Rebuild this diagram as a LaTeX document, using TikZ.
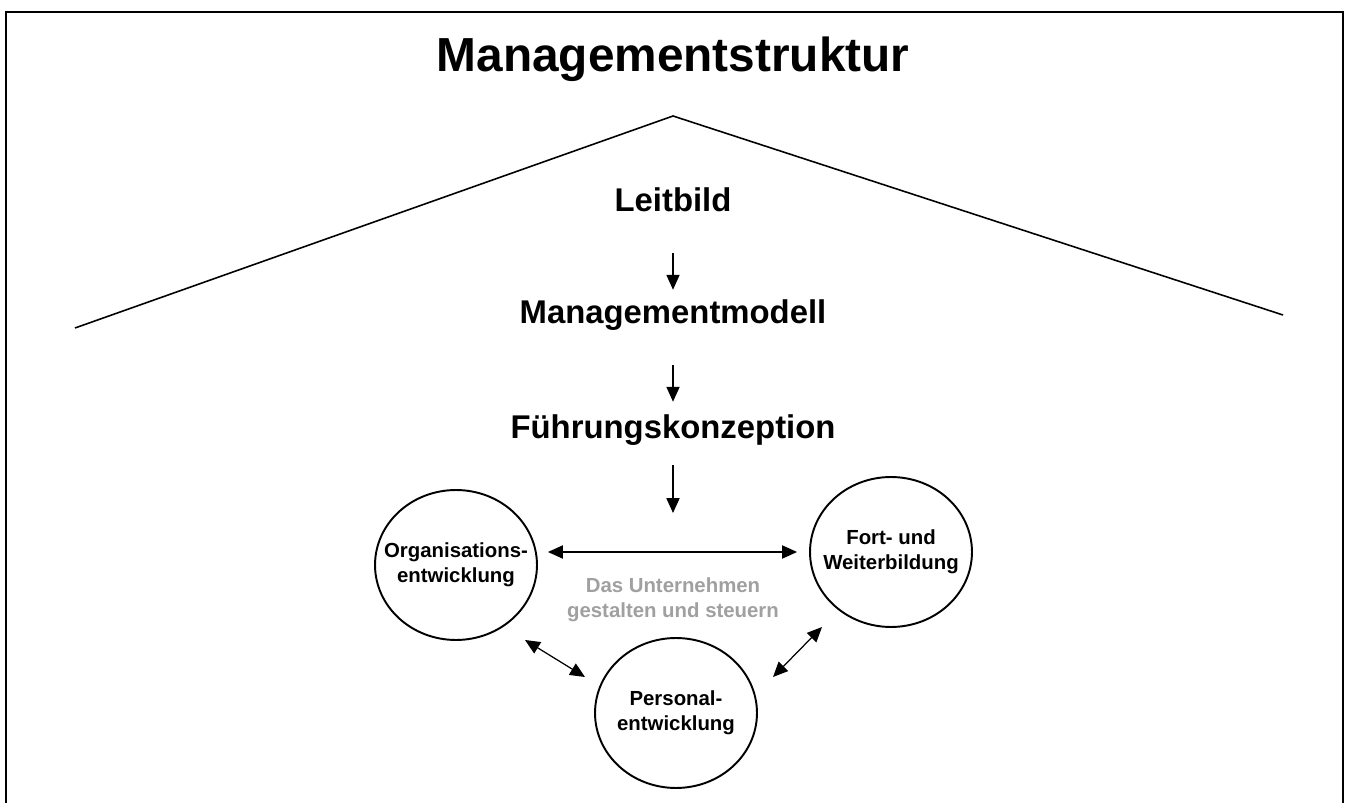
\documentclass[tikz,border=0pt]{standalone}
\usepackage{fontspec}
\setmainfont{Liberation Sans}
\usetikzlibrary{arrows.meta,positioning,shapes.geometric}
\definecolor{softgray}{RGB}{160,160,160}

\begin{document}
\begin{tikzpicture}[x=0.02cm,y=-0.02cm,>={Triangle[length=8.5pt,width=7.5pt]},node distance=2.3cm,
  level/.style={font=\fontsize{18.7}{22}\selectfont\bfseries,inner sep=0pt},
  field/.style={ellipse,draw,line width=1.1pt,minimum width=3.24cm,minimum height=3cm},
  fieldtext/.style={font=\fontsize{11.6}{14.2}\selectfont\bfseries,align=center,inner sep=0pt},
  flow/.style={->,line width=0.7pt},
  link/.style={<->,line width=0.7pt}]
  \useasboundingbox (0,0) rectangle (1349,803);
  \draw[line width=1.1pt] (6,803) -- (6,12) -- (1343,12) -- (1343,803);
  \node[font=\fontsize{27.2}{32}\selectfont\bfseries,anchor=base] (title) at (673,72) {Managementstruktur};

  % roof
  \coordinate (eaveL) at (75,328);
  \coordinate (ridge) at (673,116);
  \coordinate (eaveR) at (1283,315);
  \draw[line width=0.9pt] (eaveL) -- (ridge) -- (eaveR);

  \node[level] (leit) at (673,200) {Leitbild};
  \node[level,below of=leit] (mod) {Managementmodell};
  \node[level,below of=mod] (fk) {Führungskonzeption};
  \coordinate (hub) at (673,513);

  \draw[flow,shorten <=0.82cm,shorten >=0.19cm] (leit) -- (mod);
  \draw[flow,shorten <=0.69cm,shorten >=0.25cm] (mod) -- (fk);
  \draw[flow,shorten <=0.39cm] (fk) -- (hub);

  % the three fields
  \node[field] (org) at (456,565) {};
  \node[field] (fort) at (891,552) {};
  \node[field] (pers) at (676,713) {};
  \node[fieldtext] at (org) {Organisations-\\entwicklung};
  \node[fieldtext] at (fort) {Fort- und\\Weiterbildung};
  \node[fieldtext] at (pers) {Personal-\\entwicklung};
  \node[fieldtext,text=softgray] (goal) at (673,600) {Das Unternehmen\\gestalten und steuern};

  \coordinate (orgOut) at (525,640);
  \coordinate (persIn) at (585,677);
  \coordinate (persOut) at (773,677);
  \coordinate (fortIn) at (822,627);
  \draw[link,shorten <=0.2cm,shorten >=0.24cm] (org.east |- fort.west) -- (fort.west);
  \draw[link] (orgOut) -- (persIn);
  \draw[link] (persOut) -- (fortIn);
\end{tikzpicture}
\end{document}
